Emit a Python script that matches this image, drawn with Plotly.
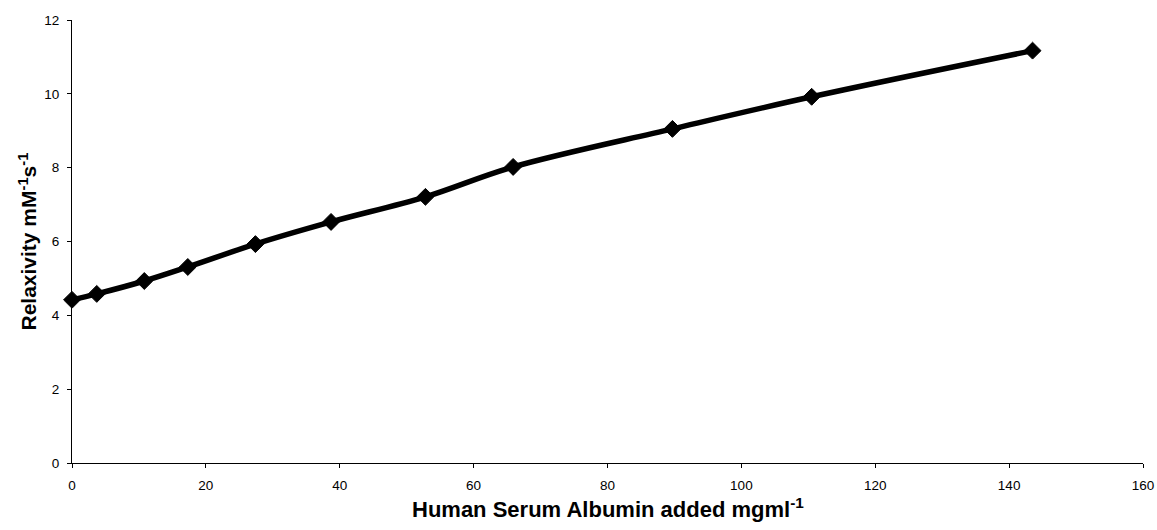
import plotly.graph_objects as go

hsa_added = [0, 3.7, 10.8, 17.3, 27.4, 38.7, 52.8, 65.9, 89.7, 110.5, 143.5]
relaxivity = [4.42, 4.58, 4.93, 5.31, 5.93, 6.53, 7.21, 8.02, 9.05, 9.92, 11.17]

x_ticks = [0, 20, 40, 60, 80, 100, 120, 140, 160]
y_ticks = [0, 2, 4, 6, 8, 10, 12]

fig = go.Figure()
fig.add_trace(go.Scatter(
    x=hsa_added, y=relaxivity, mode="lines+markers",
    line=dict(color="black", width=5.5, shape="spline", smoothing=1.0),
    marker=dict(symbol="diamond", size=13, color="black",
                line=dict(color="black", width=1)),
    showlegend=False, cliponaxis=False,
))

font = "Arial, Liberation Sans, sans-serif"
fig.update_layout(
    width=1157, height=530,
    margin=dict(l=72, r=14, t=20, b=67),
    paper_bgcolor="white", plot_bgcolor="white",
    font=dict(family=font, color="black", size=12),
    xaxis=dict(
        range=[0, 160], tickvals=x_ticks, showgrid=False, zeroline=False,
        showline=True, linecolor="black", linewidth=1,
        ticks="outside", ticklen=4, tickcolor="black",
        tickfont=dict(size=13.5), automargin=False, ticklabelstandoff=6,
    ),
    yaxis=dict(
        range=[0, 12], tickvals=y_ticks, showgrid=False, zeroline=False,
        showline=True, linecolor="black", linewidth=1,
        ticks="outside", ticklen=4, tickcolor="black",
        tickfont=dict(size=13.5), automargin=False, ticklabelstandoff=5,
    ),
    annotations=[
        dict(text="<b>Human Serum Albumin added mgml<sup>-1</sup></b>",
             xref="paper", yref="paper", x=0.5, y=-0.102,
             xanchor="center", yanchor="middle", showarrow=False,
             font=dict(size=22)),
        dict(text="<b>Relaxivity mM<sup>-1</sup>s<sup>-1</sup></b>",
             xref="paper", yref="paper", x=-0.042, y=0.5, textangle=-90,
             xanchor="center", yanchor="middle", showarrow=False,
             font=dict(size=21)),
    ],
)

fig.write_html(
    "out.html",
    config={"displayModeBar": False},
    post_script="document.body.style.margin='0';document.body.style.overflow='hidden';",
)
